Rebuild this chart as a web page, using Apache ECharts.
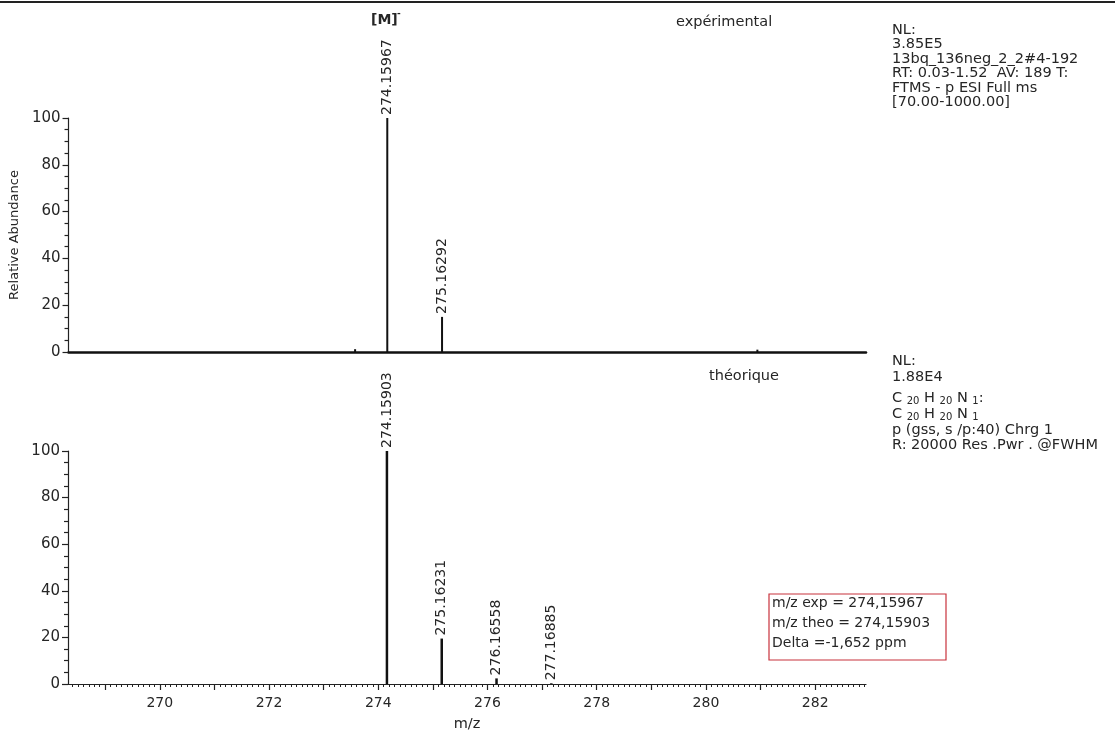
<!DOCTYPE html>
<html>
<head>
<meta charset="utf-8">
<script src="https://cdn.jsdelivr.net/npm/echarts@6/dist/echarts.min.js"></script>
<style>
html,body{margin:0;padding:0;background:#fff;}
#c{width:1115px;height:733px;}
</style>
</head>
<body>
<div id="c"></div>
<script>
// ---- data ----
const xTickLabels = [270, 272, 274, 276, 278, 280, 282];
const xMajorTicks = [269, 270, 271, 272, 273, 274, 275, 276, 277, 278, 279, 280, 281, 282];
const yTickLabels = [0, 20, 40, 60, 80, 100];
const expMz = [274.15967, 275.16292];
const expInt = [100, 15];
const expNoiseMz = [273.57, 280.94];
const expNoiseInt = [1.2, 1.0];
const theoMz = [274.15903, 275.16231, 276.16558, 277.16885];
const theoInt = [100, 19.5, 2.4, 0.3];
const infoTop = ['NL:', '3.85E5', '13bq_136neg_2_2#4-192', 'RT: 0.03-1.52  AV: 189 T:', 'FTMS - p ESI Full ms', '[70.00-1000.00]'];
const boxLines = ['m/z exp = 274,15967', 'm/z theo = 274,15903', 'Delta =-1,652 ppm'];

const XMIN = 268.32, XMAX = 282.93;
const FONT = 'DejaVu Sans';
const TXT = '#262626';
const minorTicks = [];
for (let i = 2684; i <= 2829; i++) minorTicks.push(i / 10);

const chart = echarts.init(document.getElementById('c'), null, {renderer: 'canvas'});

function peakData(mz, inten) { return mz.map((m, i) => [m, inten[i]]); }

const peakLabel = {
  show: true, position: 'top', rotate: 90, align: 'left', verticalAlign: 'middle',
  distance: 3, fontFamily: FONT, fontSize: 14, color: TXT,
  formatter: p => p.value[0].toFixed(5)
};

const yAxisBase = {
  type: 'value', min: 0, max: 100, interval: 20,
  axisLine: {show: true, lineStyle: {color: '#222', width: 1.2}},
  axisTick: {show: true, length: 6, lineStyle: {color: '#222', width: 1.2}},
  minorTick: {show: true, splitNumber: 4, length: 4, lineStyle: {color: '#222', width: 1.2}},
  axisLabel: {fontFamily: FONT, fontSize: 15, color: TXT, margin: 8},
  splitLine: {show: false}
};

const txt = (x, y, text, extra) => ({type: 'text', x: x, y: y,
  style: Object.assign({text: text, font: '14.5px "DejaVu Sans"', fill: TXT, verticalAlign: 'middle'}, extra || {})});

const option = {
  animation: false,
  backgroundColor: '#fff',
  grid: [
    {left: 68, top: 118, width: 798, height: 234},
    {left: 68, top: 451, width: 798, height: 234}
  ],
  xAxis: [
    {gridIndex: 0, type: 'value', min: XMIN, max: XMAX,
      axisLine: {show: true, onZero: false, lineStyle: {color: '#111', width: 2.5}},
      axisTick: {show: false}, axisLabel: {show: false}, splitLine: {show: false}},
    {gridIndex: 1, type: 'value', min: XMIN, max: XMAX, position: 'bottom',
      axisLine: {show: true, onZero: false, lineStyle: {color: '#222', width: 1.2}},
      axisTick: {show: true, length: 6, customValues: xMajorTicks, lineStyle: {color: '#222', width: 1.2}},
      axisLabel: {show: true, customValues: xTickLabels, fontFamily: FONT, fontSize: 14, color: TXT, margin: 12},
      splitLine: {show: false},
      name: 'm/z', nameLocation: 'middle', nameGap: 33,
      nameTextStyle: {fontFamily: FONT, fontSize: 14.5, color: TXT}},
    {gridIndex: 1, type: 'value', min: XMIN, max: XMAX, position: 'bottom',
      axisLine: {show: false, onZero: false},
      axisTick: {show: true, length: 3, customValues: minorTicks, lineStyle: {color: '#222', width: 1}},
      axisLabel: {show: false}, splitLine: {show: false}}
  ],
  yAxis: [
    Object.assign({}, yAxisBase, {gridIndex: 0, name: 'Relative Abundance', nameLocation: 'middle', nameGap: 43,
      nameTextStyle: {fontFamily: FONT, fontSize: 13, color: TXT}}),
    Object.assign({}, yAxisBase, {gridIndex: 1})
  ],
  series: [
    {type: 'bar', xAxisIndex: 0, yAxisIndex: 0, barWidth: 2, data: peakData(expMz, expInt),
      itemStyle: {color: '#111'}, label: peakLabel},
    {type: 'bar', xAxisIndex: 0, yAxisIndex: 0, barWidth: 2, barGap: '-100%', data: peakData(expNoiseMz, expNoiseInt),
      itemStyle: {color: '#111'}},
    {type: 'bar', xAxisIndex: 1, yAxisIndex: 1, barWidth: 2.5, data: peakData(theoMz, theoInt),
      itemStyle: {color: '#111'}, label: peakLabel}
  ],
  graphic: [
    {type: 'line', shape: {x1: 0, y1: 2, x2: 1115, y2: 2}, style: {stroke: '#222', lineWidth: 2}},
    txt(371, 20, '[M]', {font: 'bold 14px "DejaVu Sans"'}),
    txt(397, 14, '-', {font: 'bold 9px "DejaVu Sans"'}),
    txt(676, 22, 'expérimental'),
    txt(709, 376, 'théorique'),
    txt(892, 23, infoTop.join('\n'), {lineHeight: 14.4, verticalAlign: 'top'}),
    txt(892, 361, 'NL:'),
    txt(892, 377, '1.88E4'),
    txt(892, 398, 'C {s|20} H {s|20} N {s|1}:', {rich: {s: {fontFamily: FONT, fontSize: 10, fill: TXT, padding: [6, 0, 0, 0]}}}),
    txt(892, 414, 'C {s|20} H {s|20} N {s|1}', {rich: {s: {fontFamily: FONT, fontSize: 10, fill: TXT, padding: [6, 0, 0, 0]}}}),
    txt(892, 430, 'p (gss, s /p:40) Chrg 1'),
    txt(892, 445, 'R: 20000 Res .Pwr . @FWHM'),
    {type: 'rect', shape: {x: 769, y: 594, width: 177, height: 66}, style: {fill: '#fff', stroke: '#c8323c', lineWidth: 1.2}},
    txt(772, 603, boxLines[0], {font: '14px "DejaVu Sans"'}),
    txt(772, 623, boxLines[1], {font: '14px "DejaVu Sans"'}),
    txt(772, 643, boxLines[2], {font: '14px "DejaVu Sans"'})
  ]
};
chart.setOption(option);
</script>
</body>
</html>
